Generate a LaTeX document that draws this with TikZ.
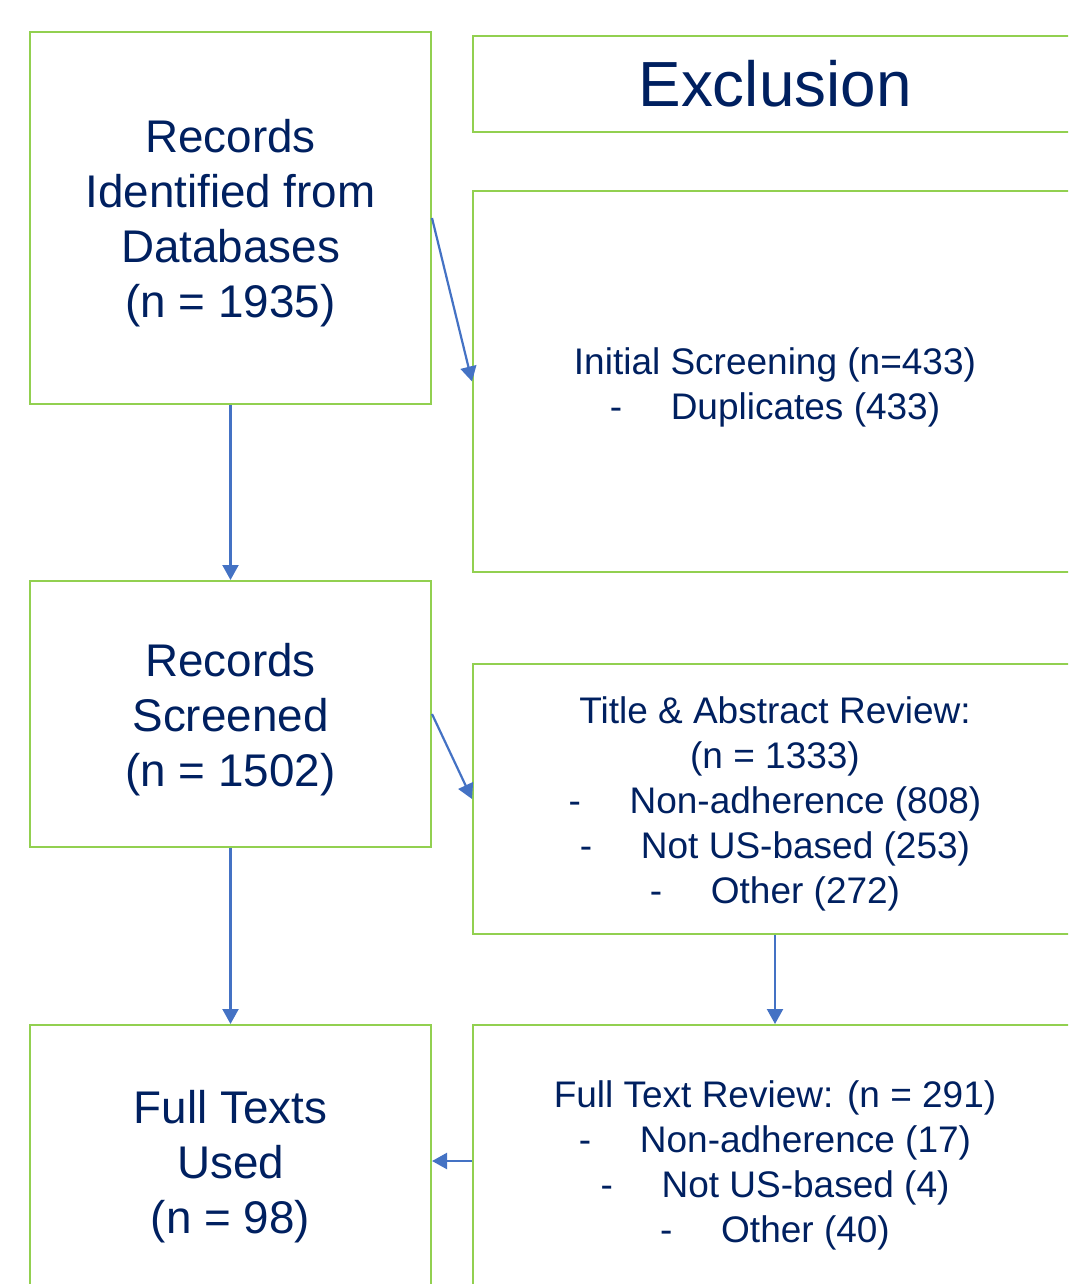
\documentclass[tikz,border=0pt]{standalone}
\usepackage{fontspec}
\setmainfont{Liberation Sans}
\usepackage{xcolor}
\usepackage{tikz}
\usetikzlibrary{positioning,arrows.meta}
\definecolor{prsgreen}{HTML}{92D050}
\definecolor{prsblue}{HTML}{4472C4}
\definecolor{prsnavy}{HTML}{002060}
\newcommand{\bigtxt}{\fontsize{45.8}{55}\selectfont}
\newcommand{\smalltxt}{\fontsize{37}{45}\selectfont}
\newcommand{\dashitem}[1]{\makebox[61pt][l]{-}#1}

\begin{document}
\begin{tikzpicture}[x=1pt,y=-1pt,
    greenbox/.style={draw=prsgreen,line width=2pt,inner sep=0pt},
    leftbox/.style={greenbox,minimum width=401pt},
    rightbox/.style={greenbox,minimum width=604pt},
    boxtxt/.style={text=prsnavy,align=center,inner sep=0pt},
    flowarrow/.style={draw=prsblue,line width=2.2pt,-{Triangle[length=15pt,width=16pt]}}]
  \clip (0,0) rectangle (1068,1284);
  % left column
  \node[leftbox,minimum height=372pt] (ident) at (230.5,218) {};
  \node[leftbox,minimum height=266pt] (screen) at (230.5,714) {};
  \node[leftbox,minimum height=272pt] (used) at (230.5,1161) {};
  \node[boxtxt,font=\bigtxt] (ident-t) at ([yshift=-5.5pt]ident.center)
    {Records\\Identified from\\Databases\\(n = 1935)};
  \node[boxtxt,font=\bigtxt] (screen-t) at ([yshift=-5.5pt]screen.center)
    {Records\\Screened\\(n = 1502)};
  \node[boxtxt,font=\bigtxt] (used-t) at ([yshift=-5.5pt]used.center)
    {Full Texts\\Used\\(n = 98)};
  % right column
  \node[rightbox,minimum height=96pt,boxtxt,font=\fontsize{63.8}{70}\selectfont]
    (excl) at (775,84) {Exclusion};
  \node[rightbox,minimum height=381pt] (initial) at (775,381.5) {};
  \node[rightbox,minimum height=270pt] (abstract) at (775,799) {};
  \node[rightbox,minimum height=272pt] (fulltext) at (775,1161) {};
  \node[boxtxt,font=\smalltxt] (initial-t) at ([yshift=-5.5pt]initial.center)
    {Initial Screening (n=433)\\\dashitem{Duplicates (433)}};
  \node[boxtxt,font=\smalltxt] (abstract-t) at ([yshift=-5pt]abstract.center)
    {Title \& Abstract Review:\\(n = 1333)\\\dashitem{Non-adherence (808)}\\
     \dashitem{Not US-based (253)}\\\dashitem{Other (272)}};
  \node[boxtxt,font=\smalltxt] (fulltext-t) at ([yshift=-4.5pt]fulltext.center)
    {Full Text Review: (n = 291)\\\dashitem{Non-adherence (17)}\\
     \dashitem{Not US-based (4)}\\\dashitem{Other (40)}};
  % connectors
  \draw[flowarrow] (ident.south) -- (screen.north);
  \draw[flowarrow] (screen.south) -- (used.north);
  \draw[flowarrow] (ident.east) -- (initial.west);
  \draw[flowarrow] (screen.east) -- (abstract.west);
  \draw[flowarrow] (abstract.south) -- (fulltext.north);
  \draw[flowarrow] (fulltext.west) -- (used.east);
\end{tikzpicture}
\end{document}
